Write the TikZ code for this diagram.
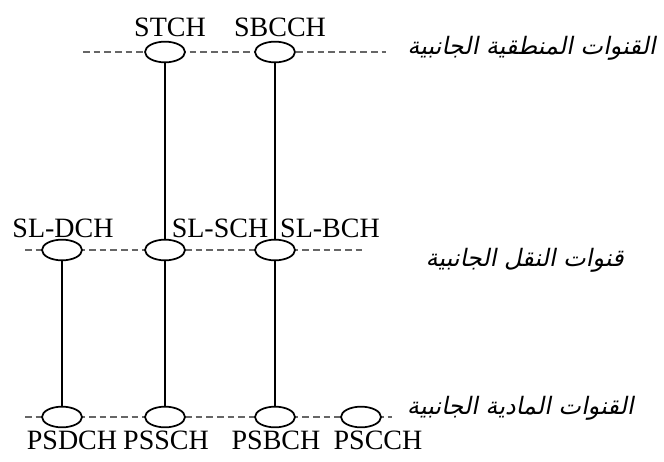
\documentclass[tikz,border=0pt]{standalone}
\usepackage{fontspec}
\setmainfont{Liberation Serif}
\newfontfamily\arabicfont[Script=Arabic,FakeSlant=0.2]{DejaVu Sans}
\TeXXeTstate=1

\tikzset{
  chan/.style={draw, ellipse, fill=white, line width=1.3pt, minimum width=30pt, minimum height=15.5pt, inner sep=0pt},
  link/.style={line width=1.1pt},
  layer/.style={draw=black!60, line width=1.1pt, dash pattern={on 5pt off 3pt}},
  lbl/.style={inner sep=0.75pt, font=\fontsize{21}{23}\selectfont},
  arlbl/.style={inner sep=0.75pt, anchor=east, font=\arabicfont\fontsize{18}{21}\selectfont}
}
\usetikzlibrary{shapes.geometric}

\begin{document}
\begin{tikzpicture}[x=0.75pt,y=0.75pt,yscale=-1,xscale=1]
                \useasboundingbox (0,0) rectangle (664,461);
                % dashed channel layers
                \coordinate (topL) at (83,52);   \coordinate (topR) at (386,52);
                \coordinate (midL) at (25,250);  \coordinate (midR) at (364,250);
                \coordinate (botL) at (25,417);  \coordinate (botR) at (392,417);
                \draw [layer] (topL) -- (topR) ;
                \draw [layer] (midL) -- (midR) ;
                \draw [layer] (botL) -- (botR) ;
                % vertical mappings
                \draw [link] (165,52) -- (165,417) ;
                \draw [link] (275,52) -- (275,417) ;
                \draw [link] (62,250) -- (62,417) ;
                % channels
                \node [chan] (stch) at (165,52) {};
                \node [chan] (sbcch) at (275,52) {};
                \node [chan] (sldch) at (62,250) {};
                \node [chan] (slsch) at (165,250) {};
                \node [chan] (slbch) at (275,250) {};
                \node [chan] (psdch) at (62,417) {};
                \node [chan] (pssch) at (165,417) {};
                \node [chan] (psbch) at (275,417) {};
                \node [chan] (pscch) at (361,417) {};
                % names
                \draw (170,27) node [lbl] {STCH};
                \draw (280,27) node [lbl] {SBCCH};
                \draw (63,228) node [lbl] {SL-DCH};
                \draw (220,228) node [lbl] {SL-SCH};
                \draw (330,228) node [lbl] {SL-BCH};
                \draw (72,440) node [lbl] {PSDCH};
                \draw (166,440) node [lbl] {PSSCH};
                \draw (276,440) node [lbl] {PSBCH};
                \draw (378,440) node [lbl] {PSCCH};
                % layer titles
                \draw (657,48) node [arlbl] {\beginR القنوات المنطقية الجانبية\endR};
                \draw (625,260) node [arlbl] {\beginR قنوات النقل الجانبية\endR};
                \draw (635,408) node [arlbl] {\beginR القنوات المادية الجانبية\endR};
            \end{tikzpicture}
\end{document}
